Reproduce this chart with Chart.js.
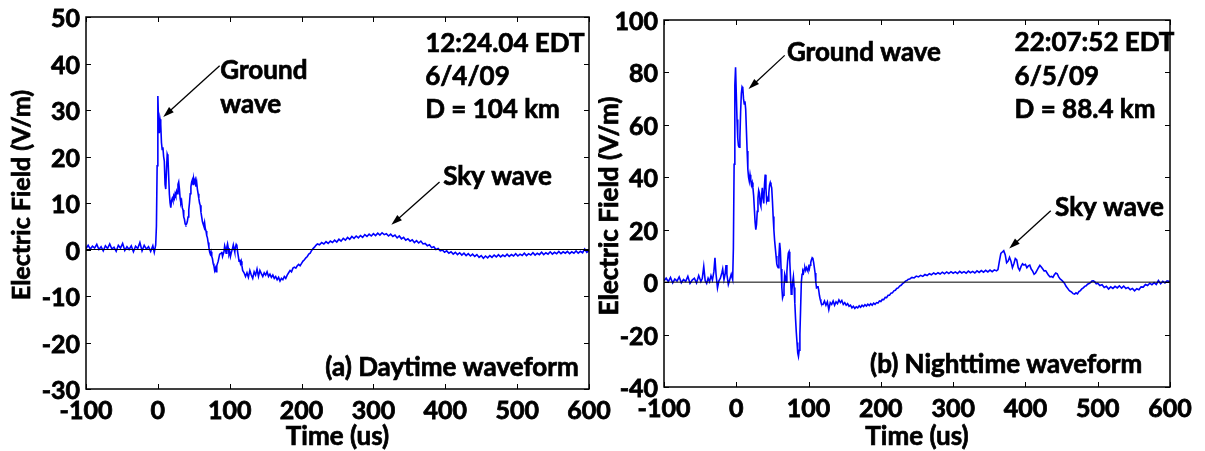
<!DOCTYPE html>
<html>
<head>
<meta charset="utf-8">
<script src="https://cdn.jsdelivr.net/npm/chart.js@4"></script>
<style>
  html, body { margin: 0; padding: 0; background: #fff; overflow: hidden; }
  canvas { position: absolute; top: 0; }
  #day { left: 0; }
  #night { left: 598px; }
</style>
</head>
<body>
<canvas id="day" width="620" height="451"></canvas>
<canvas id="night" width="607" height="451"></canvas>
<script>
// time axis shared by both records (us)
const timeTicks = [-100, 0, 100, 200, 300, 400, 500, 600];

// (a) daytime record, 6/4/09, D = 104 km
const dayTicks = [-30, -20, -10, 0, 10, 20, 30, 40, 50];
const dayTime = [
  -100, -97, -94, -91, -88, -85, -82, -79, -76, -73,
  -70, -67, -64, -61, -58, -55, -52, -49, -46, -43,
  -40, -37, -34, -31, -28, -25, -22, -19, -16, -13,
  -10, -7, -5, -3, -2, -1, 0, 1, 2, 3,
  4, 5, 6, 7, 8, 9, 10, 11, 12, 13,
  14, 15, 16, 17, 18, 19, 20, 21, 22, 23,
  24, 25, 26, 27, 28, 29, 30, 31, 32, 33,
  34, 35, 36, 37, 38, 39, 40, 41, 42, 43,
  44, 45, 46, 47, 48, 49, 50, 51, 52, 53,
  54, 55, 56, 57, 58, 59, 60, 61, 62, 63,
  64, 65, 66, 67, 68, 69, 70, 71, 72, 73,
  74, 75, 76, 77, 78, 79, 80, 81, 82, 84,
  86, 88, 89, 90, 92, 93, 94, 95, 96, 97,
  98, 99, 100, 101, 102, 104, 105, 106, 107, 108,
  109, 110, 111, 112, 113, 114, 115, 116, 117, 118,
  120, 122, 124, 126, 128, 130, 132, 134, 136, 138,
  140, 142, 144, 146, 148, 150, 152, 154, 156, 158,
  160, 162, 164, 166, 168, 170, 172, 174, 176, 178,
  180, 182, 184, 186, 188, 190, 192, 194, 196, 198,
  200, 202, 204, 206, 208, 210, 212, 214, 216, 218,
  220, 222, 225, 228, 231, 234, 237, 240, 243, 246,
  249, 252, 255, 258, 261, 264, 267, 270, 273, 276,
  279, 282, 285, 288, 291, 294, 297, 300, 303, 306,
  309, 312, 315, 318, 321, 324, 327, 330, 333, 336,
  339, 342, 345, 348, 351, 354, 357, 360, 363, 366,
  369, 372, 375, 378, 381, 384, 387, 390, 393, 396,
  399, 402, 405, 408, 411, 414, 417, 420, 423, 426,
  429, 432, 435, 438, 441, 444, 447, 450, 453, 456,
  459, 462, 465, 468, 471, 474, 477, 480, 483, 486,
  489, 492, 495, 498, 501, 504, 507, 510, 513, 516,
  519, 522, 525, 528, 531, 534, 537, 540, 543, 546,
  549, 552, 555, 558, 561, 564, 567, 570, 573, 576,
  579, 582, 585, 588, 591, 594, 597, 600
];
const dayField = [
  0.2, 0.9, 0.1, 0.7, 0.3, 1.1, 0.0, 0.6, -0.3, 0.8,
  0.2, 1.2, 0.1, 0.5, -0.4, 0.9, 0.3, 1.3, -0.2, 0.6,
  0.0, 0.8, -0.5, 0.7, 0.2, 1.5, -0.3, 0.9, 0.1, 0.6,
  -0.4, 0.8, -0.6, 1.0, 5, 18, 33, 27, 25, 28,
  27, 23, 21.5, 22, 20, 19, 14, 13, 17, 20.5,
  20, 16, 12, 10, 9, 10.5, 11, 10.5, 11.5, 11,
  12, 11.5, 12.5, 12, 14, 14.5, 13, 11, 10, 10.5,
  9, 8.5, 7, 6.5, 5.5, 5.3, 5.5, 6, 7, 8.5,
  10, 12, 13.5, 14.5, 15, 14, 15.2, 14.5, 15, 13.5,
  14.5, 13, 12, 11, 10, 9.5, 8, 7, 6, 5.5,
  5, 5.8, 4.5, 4, 3, 2.5, 1.5, 0.5, -0.5, -1,
  -0.5, -1.5, -2, -3, -3.5, -4.5, -4, -4.8, -3.5, -2.5,
  -1.0, -0.8, -0.5, -1.5, -0.5, 0.8, 0.2, -0.8, 0.5, 1.2,
  0.3, -1, -0.5, -1.5, -0.8, 0.3, 1.0, 0.2, -0.5, 0.5,
  1.1, 0.8, -0.5, -1.5, -2.5, -2.2, -3, -2.5, -3.5, -4.5,
  -5, -5.8, -5, -6, -4.5, -5.5, -6.2, -4.8, -5.5, -4.2,
  -5.8, -4.5, -5.2, -5.8, -5, -5.5, -4.8, -5.8, -5.3, -6,
  -5.5, -6.2, -5.8, -6.5, -6, -6.8, -6.2, -6.5, -5.8, -6.2,
  -5.5, -5, -4.5, -4.8, -4, -3.8, -4, -3.5, -3.2, -3.5,
  -3, -2.5, -2.2, -1.8, -1.5, -1, -0.8, -0.2, 0.2, 0.5,
  0.9, 1.2, 1.0, 1.5, 1.2, 1.7, 1.3, 1.8, 1.5, 2.0,
  1.6, 2.2, 1.8, 2.4, 2.0, 2.6, 2.2, 2.8, 2.4, 2.9,
  2.5, 3.0, 2.6, 3.2, 2.8, 3.3, 2.9, 3.4, 3.0, 3.5,
  3.1, 3.6, 3.2, 3.4, 2.9, 3.3, 2.8, 3.1, 2.5, 2.9,
  2.3, 2.6, 2.0, 2.3, 1.8, 2.1, 1.5, 1.9, 1.4, 1.8,
  1.2, 1.3, 0.8, 1.0, 0.4, 0.6, 0.0, 0.2, -0.3, -0.1,
  -0.6, -0.3, -0.8, -0.5, -1.0, -0.6, -1.1, -0.7, -1.2, -0.8,
  -1.3, -0.9, -1.4, -1.0, -1.5, -1.1, -1.7, -1.3, -1.9, -1.4,
  -1.8, -1.3, -1.7, -1.2, -1.6, -1.1, -1.6, -1.2, -1.5, -1.0,
  -1.5, -1.1, -1.4, -0.9, -1.4, -1.0, -1.3, -0.8, -1.3, -0.9,
  -1.2, -0.7, -1.2, -0.8, -1.1, -0.6, -1.1, -0.7, -1.0, -0.5,
  -1.0, -0.6, -0.9, -0.4, -0.9, -0.5, -0.8, -0.4, -0.9, -0.5,
  -0.8, -0.3, -0.8, -0.4, -0.7, 0.1, -0.6, -0.3
];

// (b) nighttime record, 6/5/09, D = 88.4 km
const nightTicks = [-40, -20, 0, 20, 40, 60, 80, 100];
const nightTime = [
  -100, -97, -94, -91, -88, -85, -82, -79, -76, -73,
  -70, -67, -64, -61, -58, -55, -52, -49, -47, -45,
  -43, -41, -39, -37, -35, -33, -31, -29.5, -28, -26,
  -24, -22, -20, -18.8, -17, -15.5, -14.2, -13, -11, -9,
  -7, -5, -4, -3, -2, -1, 0, 1, 2, 3,
  4, 5, 6, 7, 8, 9, 10, 11, 12, 13,
  14, 15, 16, 17, 18, 19, 20, 21, 22, 23,
  24, 25, 26, 27, 28, 29, 30, 31, 32, 33,
  34, 35, 36, 37, 38, 39, 40, 41, 42, 43,
  44, 45, 46, 47, 48, 49, 50, 51, 52, 53,
  54, 55, 56, 57, 58, 59, 60, 61, 62, 63,
  64, 65, 66, 67, 68, 69, 70, 71, 72, 73,
  74, 75, 76, 77, 78, 79, 80, 81, 82, 83,
  84, 85, 86, 87, 88, 89, 90, 91, 92, 93,
  94, 95, 96, 97, 98, 99, 100, 101, 102, 103,
  104, 105, 106, 107, 108, 109, 110, 111, 112, 113,
  114, 115, 116, 117, 118, 120, 122, 124, 126, 128,
  130, 132, 134, 136, 138, 140, 142, 144, 146, 148,
  150, 152, 154, 156, 158, 160, 162, 164, 166, 168,
  170, 172, 174, 176, 178, 180, 182, 184, 186, 188,
  190, 192, 194, 196, 198, 200, 202, 204, 206, 208,
  210, 212, 214, 216, 218, 220, 222, 224, 226, 228,
  230, 232, 234, 236, 238, 240, 243, 246, 249, 252,
  255, 258, 261, 264, 267, 270, 273, 276, 279, 282,
  285, 288, 291, 294, 297, 300, 303, 306, 309, 312,
  315, 318, 321, 324, 327, 330, 333, 336, 339, 342,
  345, 348, 351, 354, 357, 360, 362, 364, 366, 368,
  370, 372, 374, 376, 378, 380, 382, 384, 386, 388,
  390, 392, 394, 396, 398, 400, 402, 404, 406, 408,
  410, 412, 414, 416, 418, 420, 422, 424, 426, 428,
  430, 432, 434, 436, 438, 440, 442, 444, 446, 448,
  450, 452, 454, 456, 458, 460, 462, 464, 466, 468,
  470, 472, 474, 476, 478, 480, 482, 484, 486, 488,
  490, 492, 494, 496, 498, 500, 503, 506, 509, 512,
  515, 518, 521, 524, 527, 530, 533, 536, 539, 542,
  545, 548, 551, 554, 557, 560, 563, 566, 569, 572,
  575, 578, 581, 584, 587, 590, 593, 596, 600
];
const nightField = [
  0.5, 1.5, 0.2, 1.8, -0.3, 1.2, 0.4, 2.0, -0.2, 1.0,
  0.3, 2.2, -0.5, 0.8, 1.5, -0.3, 2.5, 0.2, 1.5, 6,
  0.5, -0.5, 1.5, 0.2, 2.5, 0.8, 4, 9.3, 3, -2.2,
  0.5, 1.5, 3.5, 5, 1, 3, 6.5, 3, -0.9, 1,
  3, 1, 13, 45, 75, 82, 72, 62, 55, 52,
  51.5, 55, 65, 72, 74.5, 74, 70, 68, 69, 66,
  58, 50, 43, 40, 38.5, 41, 39, 37, 38, 36,
  33, 28, 23, 20, 22, 27, 32, 35, 34, 30,
  29, 33, 36, 32, 30, 37, 41, 36, 31, 32,
  31, 34, 37, 38, 37, 36, 31, 25, 20, 16,
  13, 10, 7, 6, 5.5, 10, 15, 12, 5, -2,
  -6, -5, -2, 3, 2, 0, 4, 8, 11, 11.6,
  8, 2, -4.6, -3, 0, 2, -2, -8, -14, -19,
  -23, -27, -28.3, -26, -20, -10, 0, 3, 4.2, 3.5,
  5, 5.5, 4.5, 5.5, 4.8, 4.2, 5.8, 5, 6.5, 7.5,
  8.5, 9.3, 9, 7.5, 5.5, 3.5, 0, -2.2, -2, -1.5,
  -3, -5, -6.5, -7.5, -8.5, -8.5, -7.2, -8.8, -7.5, -10.5,
  -7.8, -8.5, -7.2, -8.8, -7.5, -8.2, -6.8, -7.8, -7, -8.5,
  -7.8, -8.8, -8.2, -9.2, -8.8, -9.8, -9.2, -10, -9.4, -9.8,
  -9, -9.6, -8.8, -9.3, -8.6, -9.1, -8.4, -8.9, -8.2, -8.8,
  -8, -8.5, -7.8, -8, -7.2, -7.4, -6.6, -6.7, -5.8, -5.9,
  -5, -5, -4.2, -4.1, -3.3, -3.1, -2.4, -2.2, -1.5, -1.2,
  -0.6, -0.2, 0.4, 0.6, 1.1, 1.2, 1.8, 1.6, 2.3, 2.0,
  2.6, 2.2, 2.9, 2.5, 3.2, 2.8, 3.5, 3.0, 3.6, 3.1,
  3.8, 3.2, 3.9, 3.3, 4.0, 3.4, 3.9, 3.3, 4.1, 3.5,
  4.0, 3.4, 4.2, 3.6, 4.1, 3.5, 4.3, 3.7, 4.4, 3.8,
  4.5, 3.9, 4.6, 4.0, 4.7, 4.3, 4.8, 8, 11, 11.5,
  12, 10.5, 7.4, 8, 9.5, 8, 5.5, 7, 9, 8.5,
  5.5, 4.5, 6, 7, 6.5, 6.8, 5.5, 6.2, 6.5, 5,
  4.2, 3, 3.5, 4.5, 5.5, 6.4, 5.8, 5, 4.2, 4.4,
  3.5, 2.6, 2, 2.2, 1.8, 2.8, 3.5, 3.2, 2, 1.2,
  0.8, 0.2, -0.4, -1.5, -2.2, -3, -3.5, -3.8, -4.4, -4.6,
  -4.1, -4.5, -3.6, -3.2, -2.6, -2.2, -1.6, -1.4, -0.8, -0.5,
  -0.2, 0.4, 0.5, 0.1, -0.6, -0.4, -1.3, -1.0, -2.0, -1.6,
  -2.6, -1.8, -2.4, -1.6, -2.2, -1.4, -2.3, -1.5, -2.4, -2.0,
  -2.9, -2.4, -3.3, -2.5, -2.9, -1.8, -1.9, -0.9, -1.3, -0.4,
  -1.0, -0.2, -0.9, 0.6, -0.6, 0.3, -0.3, 0.5, 0.2
];

const FONT = 'Lato, "Open Sans", sans-serif';
const X_TITLE = 'Time (us)';
const Y_TITLE = 'Electric Field (V/m)';

function drawArrow(ctx, x0, y0, x1, y1) {
  const ang = Math.atan2(y1 - y0, x1 - x0);
  const len = 11, half = 3.5;
  ctx.beginPath();
  ctx.moveTo(x0, y0);
  ctx.lineTo(x1 - Math.cos(ang) * len * 0.8, y1 - Math.sin(ang) * len * 0.8);
  ctx.stroke();
  ctx.beginPath();
  ctx.moveTo(x1, y1);
  ctx.lineTo(x1 - Math.cos(ang) * len - Math.sin(ang) * half, y1 - Math.sin(ang) * len + Math.cos(ang) * half);
  ctx.lineTo(x1 - Math.cos(ang) * len + Math.sin(ang) * half, y1 - Math.sin(ang) * len - Math.cos(ang) * half);
  ctx.closePath();
  ctx.fill();
}

function heavyText(ctx, text, x, y) {
  ctx.fillText(text, x, y);
  ctx.strokeText(text, x, y);
}

// box around the plot, inward ticks on all four sides, axis titles, notes and arrows
const framePlugin = {
  id: 'frame',
  afterDatasetsDraw(chart, args, opts) {
    const { ctx, chartArea: a, scales: { x, y } } = chart;
    ctx.save();
    ctx.strokeStyle = '#000';
    ctx.fillStyle = '#000';
    ctx.lineWidth = 1;
    ctx.beginPath();
    x.ticks.forEach(t => {
      const px = Math.round(x.getPixelForValue(t.value)) + 0.5;
      ctx.moveTo(px, a.bottom); ctx.lineTo(px, a.bottom - 5);
      ctx.moveTo(px, a.top); ctx.lineTo(px, a.top + 5);
    });
    y.ticks.forEach(t => {
      const py = Math.round(y.getPixelForValue(t.value)) + 0.5;
      ctx.moveTo(a.left, py); ctx.lineTo(a.left + 5, py);
      ctx.moveTo(a.right, py); ctx.lineTo(a.right - 5, py);
    });
    ctx.stroke();
    ctx.lineWidth = 1.5;
    ctx.strokeRect(a.left, a.top, a.right - a.left, a.bottom - a.top);

    ctx.textAlign = 'center';
    ctx.textBaseline = 'middle';
    ctx.lineWidth = 0.7;
    ctx.font = 'bold 26px ' + FONT;
    heavyText(ctx, X_TITLE, (a.left + a.right) / 2, 437);
    ctx.save();
    ctx.translate(opts.yTitleX, opts.yTitleY);
    ctx.rotate(-Math.PI / 2);
    ctx.font = 'bold ' + opts.yTitleSize + 'px ' + FONT;
    heavyText(ctx, Y_TITLE, 0, 0);
    ctx.restore();

    ctx.font = 'bold 26px ' + FONT;
    ctx.textAlign = 'left';
    (opts.notes || []).forEach(n => {
      heavyText(ctx, n.text, x.getPixelForValue(n.t), y.getPixelForValue(n.e));
    });
    ctx.lineWidth = 1.3;
    (opts.arrows || []).forEach(r => {
      drawArrow(ctx, x.getPixelForValue(r.from[0]), y.getPixelForValue(r.from[1]),
                x.getPixelForValue(r.to[0]), y.getPixelForValue(r.to[1]));
    });
    ctx.restore();
  }
};

function makeChart(id, time, field, yTicks, box, notes, arrows) {
  const pts = time.map((t, i) => ({ x: t, y: field[i] }));
  const tickFont = { family: FONT, size: 25, weight: 'bold' };
  return new Chart(document.getElementById(id), {
    type: 'line',
    data: {
      datasets: [
        {
          data: [{ x: -100, y: 0 }, { x: 600, y: 0 }],
          borderColor: '#000', borderWidth: 1, pointRadius: 0
        },
        {
          data: pts,
          borderColor: '#0000ff', borderWidth: 1.6, pointRadius: 0, tension: 0
        }
      ]
    },
    options: {
      responsive: false,
      animation: false,
      devicePixelRatio: 1,
      layout: { padding: { left: 0, top: box.top, right: box.right, bottom: 0 } },
      plugins: {
        legend: { display: false },
        tooltip: { enabled: false },
        frame: { notes, arrows, yTitleX: box.yTitleX, yTitleY: box.yTitleY, yTitleSize: box.yTitleSize }
      },
      scales: {
        x: {
          type: 'linear', min: -100, max: 600,
          grid: { display: false, drawTicks: false },
          border: { display: false },
          afterBuildTicks: s => { s.ticks = timeTicks.map(v => ({ value: v })); },
          afterFit: s => { s.height = box.xh; s.paddingLeft = 0; s.paddingRight = 0; },
          ticks: { color: '#000', padding: 7, maxRotation: 0, autoSkip: false,
                   textStrokeColor: '#000', textStrokeWidth: 0.8, font: tickFont }
        },
        y: {
          type: 'linear', min: yTicks[0], max: yTicks[yTicks.length - 1],
          grid: { display: false, drawTicks: false },
          border: { display: false },
          afterBuildTicks: s => { s.ticks = yTicks.map(v => ({ value: v })); },
          afterFit: s => { s.width = box.yw; s.paddingTop = 0; s.paddingBottom = 0; },
          ticks: { color: '#000', padding: 6, labelOffset: 2,
                   textStrokeColor: '#000', textStrokeWidth: 0.8, font: tickFont }
        }
      }
    },
    plugins: [framePlugin]
  });
}

makeChart('day', dayTime, dayField, dayTicks,
  { top: 17, right: 31, xh: 62, yw: 86, yTitleX: 22, yTitleY: 195, yTitleSize: 25 },
  [
    { text: '12:24.04 EDT', t: 372, e: 44.2 },
    { text: '6/4/09', t: 372, e: 37.1 },
    { text: 'D = 104 km', t: 372, e: 30.1 },
    { text: 'Ground', t: 87, e: 38.4 },
    { text: 'wave', t: 87, e: 31.2 },
    { text: 'Sky wave', t: 397, e: 15.7 },
    { text: '(a) Daytime waveform', t: 233, e: -25.3 }
  ],
  [
    { from: [86, 39.5], to: [7.5, 28.5] },
    { from: [392, 14.5], to: [325, 5.3] }
  ]);

makeChart('night', nightTime, nightField, nightTicks,
  { top: 20, right: 35, xh: 64, yw: 66, yTitleX: 12, yTitleY: 206, yTitleSize: 26 },
  [
    { text: '22:07:52 EDT', t: 385, e: 91.3 },
    { text: '6/5/09', t: 385, e: 78.5 },
    { text: 'D = 88.4 km', t: 385, e: 66 },
    { text: 'Ground wave', t: 70, e: 87.5 },
    { text: 'Sky wave', t: 441, e: 28.5 },
    { text: '(b) Nighttime waveform', t: 185, e: -31.4 }
  ],
  [
    { from: [67, 86.5], to: [17, 73.7] },
    { from: [435, 27.2], to: [377.6, 12.8] }
  ]);
</script>
</body>
</html>
